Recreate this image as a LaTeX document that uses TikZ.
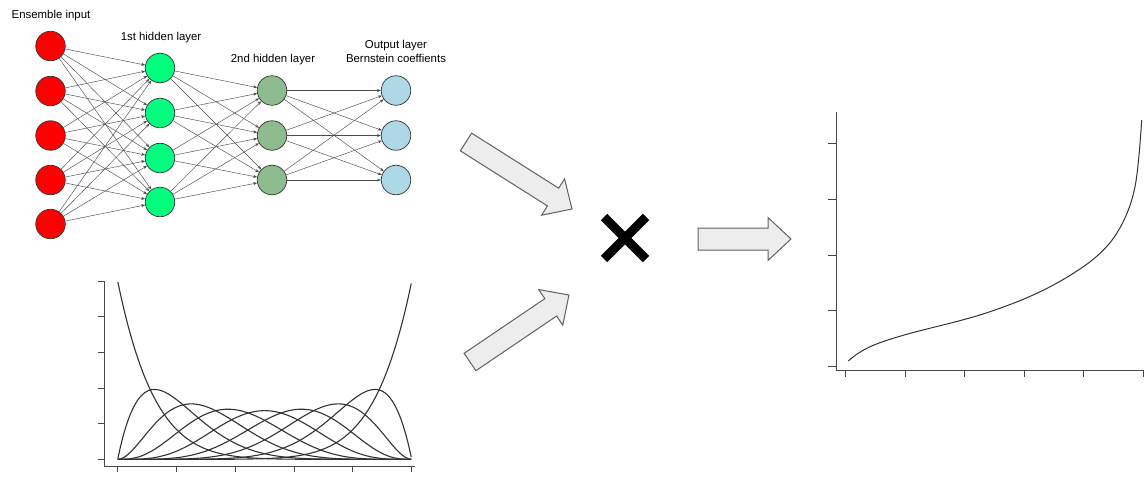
\documentclass[tikz,border=0pt]{standalone}
\usepackage{fontspec}
\setmainfont{Liberation Sans}
\usetikzlibrary{arrows.meta}
\definecolor{inred}{HTML}{FF0000}
\definecolor{hgreen}{HTML}{00FF7F}
\definecolor{hdgreen}{HTML}{8FBC8F}
\definecolor{outblue}{HTML}{ADD8E6}
\begin{document}
\begin{tikzpicture}[x=1pt,y=-1pt,
  neuron/.style={circle, draw=black!80, line width=0.7pt, minimum size=29.5pt, inner sep=0pt},
  inneuron/.style={neuron, fill=inred},
  honeneuron/.style={neuron, fill=hgreen},
  htwoneuron/.style={neuron, fill=hdgreen},
  outneuron/.style={neuron, fill=outblue},
  conn/.style={draw=black!70, line width=0.45pt, -{Stealth[length=4pt,width=3pt]}},
  lbl/.style={font=\fontsize{11.4}{13}\selectfont, anchor=base, inner sep=0pt},
  blockarrow/.style={draw=black!62, fill=black!7, line width=1pt, line join=miter},
  axisline/.style={draw=black!72, line width=0.9pt},
  curveline/.style={draw=black!80, line width=1.1pt}
]
\useasboundingbox (0,0) rectangle (1144,477);

% ---------- neural network ----------
\foreach \i/\y in {1/46,2/91,3/135.5,4/180,5/224}
  \node[inneuron] (i\i) at (50.5,\y) {};
\foreach \i/\y in {1/68,2/113,3/158,4/202}
  \node[honeneuron] (h\i) at (160,\y) {};
\foreach \i/\y in {1/90.5,2/135.5,3/180}
  \node[htwoneuron] (g\i) at (272,\y) {};
\foreach \i/\y in {1/90.5,2/135.5,3/180}
  \node[outneuron] (o\i) at (396,\y) {};

\foreach \a in {1,...,5}
  \foreach \b in {1,...,4}
    \draw[conn] (i\a) -- (h\b);
\foreach \a in {1,...,4}
  \foreach \b in {1,...,3}
    \draw[conn] (h\a) -- (g\b);
\foreach \a in {1,...,3}
  \foreach \b in {1,...,3}
    \draw[conn] (g\a) -- (o\b);

\node[lbl] (tin) at (51,18.3) {Ensemble input};
\node[lbl] (th1) at (161,40) {1st hidden layer};
\node[lbl] (th2) at (273,62.5) {2nd hidden layer};
\node[lbl] (tout) at (396,48.2) {Output layer};
\node[lbl] (tbern) at (396,62.5) {Bernstein coeffients};

% ---------- block arrows ----------
\begin{scope}[shift={(466,142)}, rotate=-32.3]
  \draw[blockarrow] (0,-10.5) -- (103,-10.5) -- (103,-21.5) -- (125.4,0)
    -- (103,21.5) -- (103,10.5) -- (0,10.5) -- cycle;
\end{scope}
\begin{scope}[shift={(470,362)}, rotate=34.1]
  \draw[blockarrow] (0,-10.5) -- (97.5,-10.5) -- (97.5,-21.5) -- (119.5,0)
    -- (97.5,21.5) -- (97.5,10.5) -- (0,10.5) -- cycle;
\end{scope}
\begin{scope}[shift={(698,239)}]
  \draw[blockarrow] (0,-11) -- (70,-11) -- (70,-21.5) -- (93,0)
    -- (70,21.5) -- (70,11) -- (0,11) -- cycle;
\end{scope}

% ---------- multiplication sign ----------
\draw[line width=9pt, black] (604,217) -- (646,259) (646,217) -- (604,259);

% ---------- Bernstein basis plot ----------
\draw[axisline] (104,281) -- (104,466);
\draw[axisline] (104,466) -- (415,466);
\foreach \t in {0,...,5}
  \draw[axisline] ({117.7+58.8*\t},466) -- ++(0,6);
\foreach \t in {0,...,5}
  \draw[axisline] (104,{459.3-35.6*\t}) -- ++(-6,0);
\foreach \k/\c in {0/1,1/8,2/28,3/56,4/70,5/56,6/28,7/8,8/1}
  \draw[curveline] plot[domain=0.0005:0.9995, samples=101, smooth]
    ({117.7+294*\x},{459.3-178*\c*(\x)^(\k)*(1-\x)^(8-\k)});

% ---------- transformation function plot ----------
\draw[axisline] (836,112) -- (836,370);
\draw[axisline] (836,370) -- (1144,370);
\foreach \y in {143.3,199.3,255,310.7,366}
  \draw[axisline] (836,\y) -- (828,\y);
\foreach \t in {0,...,5}
  \draw[axisline] ({845.7+59.5*\t},370) -- ++(0,7);
\draw[curveline, line width=1pt]
  (848.3,361) .. controls (862.2,348.5) and (876.1,343.75) .. (890,339.3)
  .. controls (923.3,328.6) and (956.7,323.0) .. (990,311.7)
  .. controls (1017.8,302.3) and (1045.5,291.1) .. (1073.3,273.3)
  .. controls (1082.2,267.6) and (1091.1,261.75) .. (1100,253.3)
  .. controls (1105.6,248.0) and (1111.1,242.2) .. (1116.7,233.3)
  .. controls (1120.6,227.1) and (1124.4,220.1) .. (1128.3,210)
  .. controls (1130.5,204.2) and (1132.8,197.4) .. (1135,186.7)
  .. controls (1137.2,176.0) and (1139.5,153.5) .. (1141.7,120);
\end{tikzpicture}
\end{document}
